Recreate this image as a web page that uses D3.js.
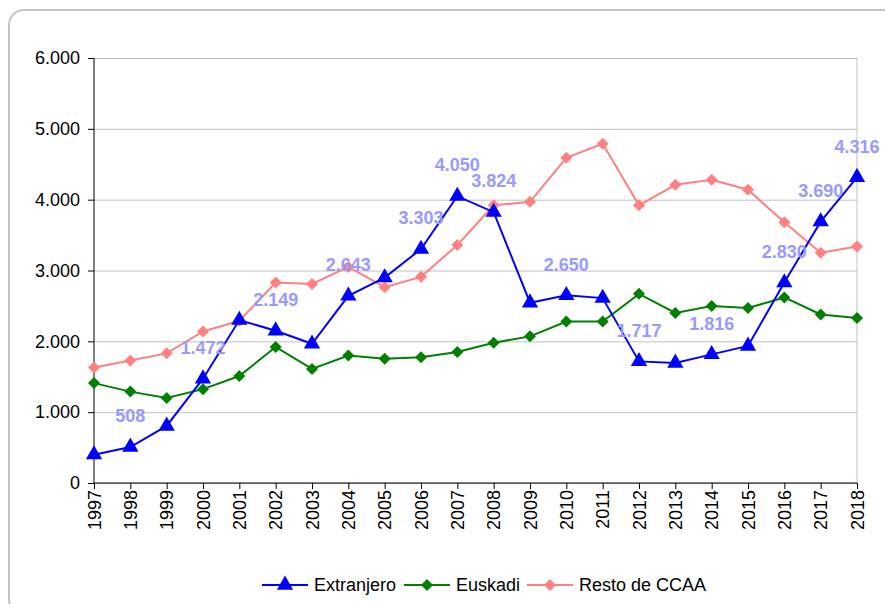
<!DOCTYPE html>
<html>
<head>
<meta charset="utf-8">
<script src="https://cdn.jsdelivr.net/npm/d3@7"></script>
<style>
  body { margin: 0; background: #ffffff; }
  text { font-family: Arial, "Liberation Sans", sans-serif; }
  .grid line { stroke: #c0c0c0; stroke-width: 1; }
  .grid path { display: none; }
  .axis path, .axis line { stroke: #000000; stroke-width: 1; }
  .axis text { font-size: 18px; fill: #000000; }
</style>
</head>
<body>
<div id="graph"></div>
<script>
// Data
var years      = [1997, 1998, 1999, 2000, 2001, 2002, 2003, 2004, 2005, 2006, 2007,
                  2008, 2009, 2010, 2011, 2012, 2013, 2014, 2015, 2016, 2017, 2018];
var extranjero = [400, 508, 805, 1472, 2300, 2149, 1965, 2643, 2900, 3303, 4050,
                  3824, 2545, 2650, 2610, 1717, 1695, 1816, 1935, 2830, 3690, 4316];
var euskadi    = [1410, 1290, 1200, 1325, 1510, 1920, 1610, 1800, 1755, 1775, 1850,
                  1980, 2070, 2280, 2280, 2670, 2400, 2500, 2470, 2620, 2380, 2330];
var resto      = [1630, 1730, 1830, 2140, 2290, 2830, 2810, 3050, 2765, 2910, 3360,
                  3920, 3970, 4590, 4790, 3920, 4210, 4280, 4140, 3680, 3250, 3340];
var labelYears = [1998, 2000, 2002, 2004, 2006, 2007, 2008, 2010, 2012, 2014, 2016, 2017, 2018];
var yTicks     = [0, 1000, 2000, 3000, 4000, 5000, 6000];
var seriesNames = ['Extranjero', 'Euskadi', 'Resto de CCAA'];

function D3App ()
{
    var W = 885, H = 604;
    var margin = { top: 58, right: 28, bottom: 121, left: 94 };
    var width  = W - margin.left - margin.right;
    var height = H - margin.top  - margin.bottom;

    var fmt = function (v) { return v === 0 ? '0' : d3.format (',') (v).replace (/,/g, '.'); };

    var root = d3.select ('#graph')
                 .append ('svg')
                 .attr ('width', W)
                 .attr ('height', H);

    // rounded frame, runs past the right and bottom edges
    root.append ('rect')
        .attr ('x', 9)
        .attr ('y', 10)
        .attr ('width', 888)
        .attr ('height', 604)
        .attr ('rx', 15)
        .attr ('ry', 15)
        .style ('fill', 'none')
        .style ('stroke', '#c4c4c4')
        .style ('stroke-width', 2);

    var svg = root.append ('g')
                  .attr ('transform', 'translate(' + margin.left + ',' + margin.top + ')');

    var xScale = d3.scalePoint ()
                   .domain (years)
                   .range ([0, width]);

    var yScale = d3.scaleLinear ()
                   .domain ([0, 6000])
                   .range ([height, 0]);

    // horizontal grid lines
    svg.append ('g')
       .attr ('class', 'grid')
       .call (d3.axisLeft (yScale).tickValues (yTicks).tickSize (-width).tickFormat (''));

    // right border of the plot area
    svg.append ('line')
       .attr ('x1', width).attr ('x2', width)
       .attr ('y1', 0).attr ('y2', height)
       .style ('stroke', '#c0c0c0');

    // axes
    svg.append ('g')
       .attr ('class', 'y axis')
       .call (d3.axisLeft (yScale).tickValues (yTicks).tickSize (6).tickPadding (8).tickFormat (fmt))
       .call (function (g) { g.select ('.domain').attr ('d', 'M0,' + height + 'V0'); });

    var xAx = svg.append ('g')
                 .attr ('class', 'x axis')
                 .attr ('transform', 'translate(0,' + height + ')')
                 .call (d3.axisBottom (xScale).tickSize (6).tickSizeOuter (0));

    xAx.select ('.domain').attr ('d', 'M0,0H' + width);

    xAx.selectAll ('text')
       .attr ('transform', 'rotate(-90)')
       .attr ('text-anchor', 'end')
       .attr ('x', -7)
       .attr ('y', 0)
       .attr ('dy', '0.35em');

    // series
    var diamond = d3.symbol ().type (d3.symbolSquare).size (72);
    var series = [
        { name: seriesNames[0], values: extranjero, color: '#0000ff', shape: d3.symbol ().type (d3.symbolTriangle).size (115), rot: 0 },
        { name: seriesNames[1], values: euskadi,    color: '#008000', shape: diamond, rot: 45 },
        { name: seriesNames[2], values: resto,      color: '#ff8080', shape: diamond, rot: 45 }
    ];

    var line = d3.line ()
                 .x (function (d, i) { return xScale (years[i]); })
                 .y (function (d) { return yScale (d); });

    // draw back to front: pink, green, blue
    series.slice ().reverse ().forEach (function (s)
    {
        svg.append ('path')
           .datum (s.values)
           .attr ('d', line)
           .style ('fill', 'none')
           .style ('stroke', s.color)
           .style ('stroke-width', 2);

        svg.selectAll (null)
           .data (s.values)
           .enter ()
           .append ('path')
           .attr ('d', s.shape)
           .attr ('transform', function (d, i) { return 'translate(' + xScale (years[i]) + ',' + yScale (d) + ') rotate(' + s.rot + ')'; })
           .style ('fill', s.color);
    });

    // data labels for Extranjero
    svg.selectAll ('.dlabel')
       .data (labelYears)
       .enter ()
       .append ('text')
       .attr ('class', 'dlabel')
       .attr ('x', function (y) { return xScale (y); })
       .attr ('y', function (y) { return yScale (extranjero[years.indexOf (y)]) - 31; })
       .attr ('dy', '0.35em')
       .attr ('text-anchor', 'middle')
       .style ('font-size', '18px')
       .style ('font-weight', 'bold')
       .style ('fill', '#9999ff')
       .text (function (y) { return fmt (extranjero[years.indexOf (y)]); });

    // legend
    var legendX = [262, 404, 527];
    var legend = root.append ('g');

    series.forEach (function (s, i)
    {
        var g = legend.append ('g')
                      .attr ('transform', 'translate(' + legendX[i] + ',585)');

        g.append ('line')
         .attr ('x1', 0).attr ('x2', 46)
         .style ('stroke', s.color)
         .style ('stroke-width', 2);

        g.append ('path')
         .attr ('d', s.shape)
         .attr ('transform', 'translate(23,0) rotate(' + s.rot + ')')
         .style ('fill', s.color);

        g.append ('text')
         .attr ('x', 52)
         .attr ('dy', '0.35em')
         .style ('font-size', '18px')
         .text (s.name);
    });
}

D3App ();
</script>
</body>
</html>
